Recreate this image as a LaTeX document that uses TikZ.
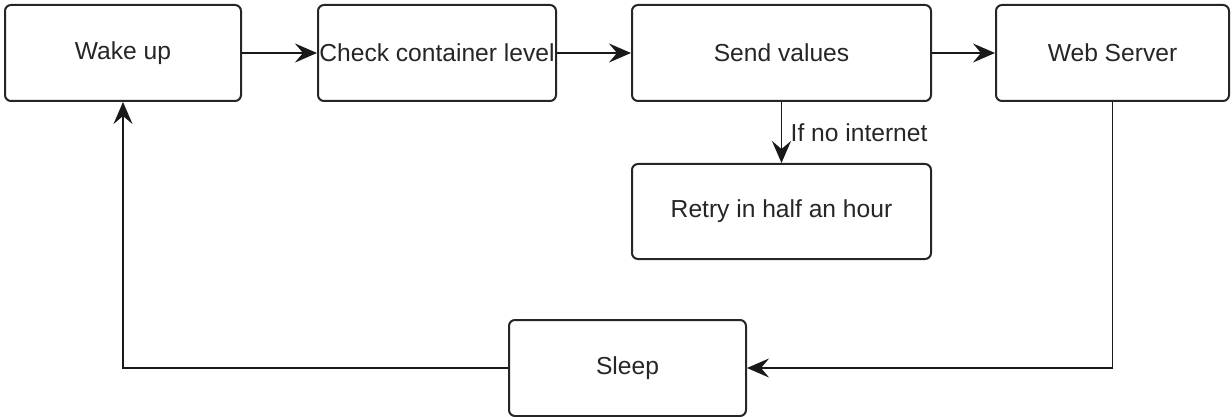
\documentclass[tikz,border=0pt]{standalone}
\usepackage{fontspec}
\setmainfont{Liberation Sans}
\usetikzlibrary{positioning,arrows.meta}

\begin{document}
\begin{tikzpicture}[x=1pt, y=-1pt,
    every node/.style={font=\fontsize{24.6}{29}\selectfont, text=black!85},
    box/.style={draw=black!85, line width=2pt, rounded corners=6pt, fill=white, minimum height=96pt, inner sep=0pt},
    flow/.style={line width=1.7pt, draw=black!90, -{Stealth[length=22pt, width=19pt, inset=8pt]}}]
    \useasboundingbox (0,0) rectangle (1232,417);

    % Top row of steps
    \node[box, minimum width=236pt] (wake)  at (123,53)    {Wake up};
    \node[box, minimum width=238pt] (check) at (437,53)    {Check container level};
    \node[box, minimum width=299pt] (send)  at (781.5,53)  {Send values};
    \node[box, minimum width=233pt] (web)   at (1112.5,53) {Web Server};

    % Fallback and sleep
    \node[box, minimum width=299pt, minimum height=95pt] (retry) at (781.5,211.5) {Retry in half an hour};
    \node[box, minimum width=237pt] (sleep) at (627.5,368) {Sleep};

    % Horizontal arrows along the top
    \draw[flow] (wake) -- (check);
    \draw[flow] (check) -- (send);
    \draw[flow] (send) -- (web);

    % No connection branch
    \draw[flow] (send) -- (retry) node[midway, right, xshift=5pt] {If no internet};

    % Loop back
    \draw[flow] (web.south) |- (sleep.east);
    \draw[flow] (sleep.west) -| (wake.south);
\end{tikzpicture}
\end{document}
